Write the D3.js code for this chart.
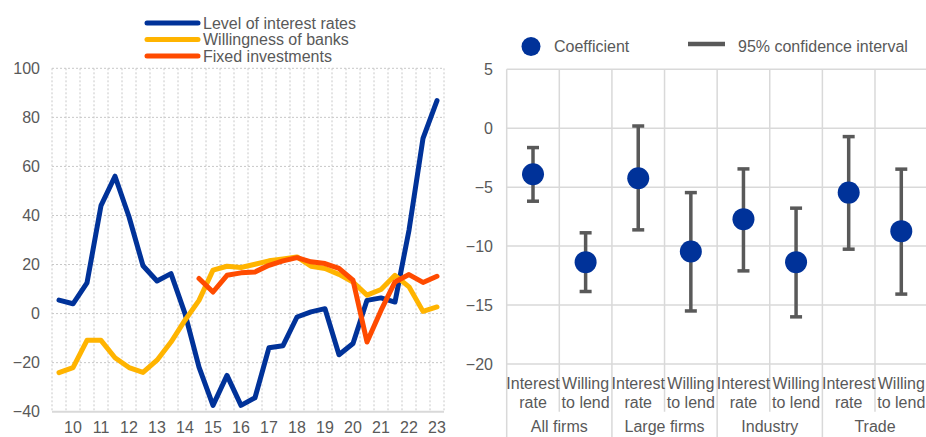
<!DOCTYPE html>
<html><head><meta charset="utf-8">
<script src="https://cdn.jsdelivr.net/npm/d3@7"></script>
<style>
body{margin:0;background:#fff}
svg{display:block;font-family:Arial,"Liberation Sans",sans-serif}
</style>
</head><body>
<svg id="c" width="926" height="437"></svg>
<script>
// ---------- Left chart data ----------
const periods = ["09H2","10H1","10H2","11H1","11H2","12H1","12H2","13H1","13H2","14H1","14H2",
  "15H1","15H2","16H1","16H2","17H1","17H2","18H1","18H2","19H1","19H2","20H1","20H2",
  "21H1","21H2","22H1","22H2","23H1"];
const tickPeriods = ["10H1","11H1","12H1","13H1","14H1","15H1","16H1","17H1","18H1","19H1","20H1","21H1","22H1","23H1"];
const tickLabels = ["10","11","12","13","14","15","16","17","18","19","20","21","22","23"];
const interestRates = [5.5,4,12.5,44,56,39.5,19.5,13.3,16.3,0,-21.8,-37.4,-25.2,-37.4,-34.3,-13.9,-13.1,-1.4,0.7,2,-16.8,-12.2,5.4,6.4,4.7,34,71.4,86.8];
const willingness = [-24.1,-22,-10.9,-10.9,-18,-22,-24,-19,-11.6,-2.7,5.4,17.7,19.3,18.8,20.1,21.5,22.3,23.1,19.3,18.4,16,12.9,7.5,9.8,15.6,10.9,0.9,2.7];
const fixedInvest = [null,null,null,null,null,null,null,null,null,null,14.3,8.8,15.6,16.6,17,19.7,21.5,22.8,21.1,20.4,18.4,13.6,-11.6,1.3,12.9,15.9,12.7,15.2];
const leftYTicks = [-40,-20,0,20,40,60,80,100];
const leftSeriesNames = ["Level of interest rates","Willingness of banks","Fixed investments"];

// ---------- Right chart data ----------
const subCats = ["Interest rate","Willing to lend","Interest rate","Willing to lend","Interest rate","Willing to lend","Interest rate","Willing to lend"];
const groups = ["All firms","Large firms","Industry","Trade"];
const coefficient = [-3.9,-11.36,-4.24,-10.46,-7.71,-11.36,-5.46,-8.73];
const ciHigh = [-1.64,-8.87,0.19,-5.46,-3.45,-6.78,-0.71,-3.47];
const ciLow = [-6.19,-13.85,-8.62,-15.5,-12.1,-16.0,-10.26,-14.07];
const rightYTicks = [-20,-15,-10,-5,0,5];

const BLUE="#003299", YELLOW="#FFB400", ORANGE="#FF4B00", TXT="#595959", GRID="#d9d9d9";
const svg = d3.select("#c");

// ================= LEFT CHART =================
const L = {x0:52, x1:444, y0:411.7, y1:68.3};
const xL = d3.scaleBand().domain(periods).range([L.x0, L.x1]).padding(0);
const cx = p => xL(p) + xL.bandwidth()/2;
const yL = d3.scaleLinear().domain([-40,100]).range([L.y0, L.y1]);

const gL = svg.append("g");
const bounds = periods.map(p => xL(p)).concat([L.x1]);
gL.selectAll("line.vg").data(bounds).join("line")
  .attr("x1", d=>d).attr("x2", d=>d).attr("y1", L.y1).attr("y2", L.y0)
  .attr("stroke","#c8c8c8").attr("stroke-dasharray","2,2").attr("stroke-width",1);
gL.selectAll("line.hg").data(leftYTicks.filter(t=>t!==-40)).join("line")
  .attr("x1", L.x0).attr("x2", L.x1).attr("y1", d=>yL(d)).attr("y2", d=>yL(d))
  .attr("stroke","#c8c8c8").attr("stroke-dasharray","2,2").attr("stroke-width",1);
gL.append("line").attr("x1",L.x0).attr("x2",L.x1).attr("y1",L.y0).attr("y2",L.y0)
  .attr("stroke",GRID).attr("stroke-width",2);

const yAxL = d3.axisLeft(yL).tickValues(leftYTicks).tickSize(0).tickPadding(0);
const gyL = svg.append("g").attr("transform",`translate(40,0)`).call(yAxL);
gyL.select(".domain").remove();
gyL.selectAll("text").attr("font-size",16).attr("fill",TXT).attr("font-family","Arial, 'Liberation Sans', sans-serif");

const xAxL = d3.axisBottom(xL).tickValues(tickPeriods)
  .tickFormat(p => tickLabels[tickPeriods.indexOf(p)]).tickSize(0).tickPadding(0);
const gxL = svg.append("g").attr("transform",`translate(0,418)`).call(xAxL);
gxL.select(".domain").remove();
gxL.selectAll("text").attr("font-size",16).attr("fill",TXT).attr("dy","0.95em")
  .attr("font-family","Arial, 'Liberation Sans', sans-serif");

const series = [
  {vals: interestRates, color: BLUE},
  {vals: willingness, color: YELLOW},
  {vals: fixedInvest, color: ORANGE}
];
const line = d3.line().defined(d=>d.v!==null).x(d=>cx(d.p)).y(d=>yL(d.v));
series.forEach(s => {
  svg.append("path")
    .datum(periods.map((p,i)=>({p, v:s.vals[i]})))
    .attr("d", line).attr("fill","none").attr("stroke", s.color)
    .attr("stroke-width",5).attr("stroke-linejoin","round").attr("stroke-linecap","round");
});

const lg = svg.append("g");
[BLUE,YELLOW,ORANGE].forEach((c,i)=>{
  const y = 23 + i*16.5;
  lg.append("line").attr("x1",147).attr("x2",198).attr("y1",y).attr("y2",y)
    .attr("stroke",c).attr("stroke-width",5).attr("stroke-linecap","round");
  lg.append("text").attr("x",203).attr("y",y+5.5).attr("font-size",16).attr("fill",TXT)
    .text(leftSeriesNames[i]);
});

// ================= RIGHT CHART =================
const R = {x0:506.7, x1:927.6, y0:364, y1:69.3};
const idx = d3.range(subCats.length);
const xR = d3.scaleBand().domain(idx).range([R.x0, R.x1]).padding(0);
const yR = d3.scaleLinear().domain([-20,5]).range([R.y0, R.y1]);
const gR = svg.append("g");

gR.selectAll("line.h").data(rightYTicks).join("line")
  .attr("x1",R.x0).attr("x2",R.x1).attr("y1",d=>yR(d)).attr("y2",d=>yR(d))
  .attr("stroke",GRID).attr("stroke-width",1.5);
const rb = idx.map(i=>xR(i)).concat([R.x1]);
gR.selectAll("line.v").data(rb).join("line")
  .attr("x1",d=>d).attr("x2",d=>d).attr("y1",R.y1)
  .attr("y2",(d,i)=> i%2===0 ? 437 : 411.7)
  .attr("stroke",GRID).attr("stroke-width",1.5);

const yAxR = d3.axisLeft(yR).tickValues(rightYTicks).tickSize(0).tickPadding(0);
const gyR = svg.append("g").attr("transform","translate(493,0)").call(yAxR);
gyR.select(".domain").remove();
gyR.selectAll("text").attr("font-size",16).attr("fill",TXT).attr("font-family","Arial, 'Liberation Sans', sans-serif");

const bwR = xR.bandwidth();
idx.forEach(i=>{
  const words = subCats[i].split(" ");
  const first = words[0], rest = words.slice(1).join(" ");
  const t = svg.append("text").attr("x", xR(i)+bwR/2).attr("text-anchor","middle")
    .attr("font-size",16).attr("fill",TXT);
  t.append("tspan").attr("x", xR(i)+bwR/2).attr("y",388.5).text(first);
  t.append("tspan").attr("x", xR(i)+bwR/2).attr("y",407.5).text(rest);
});
groups.forEach((g,k)=>{
  svg.append("text").attr("x", xR(2*k)+bwR).attr("y",432).attr("text-anchor","middle")
    .attr("font-size",16).attr("fill",TXT).text(g);
});

const eb = svg.append("g");
idx.forEach(i=>{
  const x = xR(i)+bwR/2;
  eb.append("line").attr("x1",x).attr("x2",x).attr("y1",yR(ciHigh[i])).attr("y2",yR(ciLow[i]))
    .attr("stroke",TXT).attr("stroke-width",3.5);
  [ciHigh[i],ciLow[i]].forEach(v=>{
    eb.append("line").attr("x1",x-6).attr("x2",x+6).attr("y1",yR(v)).attr("y2",yR(v))
      .attr("stroke",TXT).attr("stroke-width",3.5);
  });
});
svg.append("g").selectAll("circle").data(idx).join("circle")
  .attr("cx",i=>xR(i)+bwR/2).attr("cy",i=>yR(coefficient[i])).attr("r",11).attr("fill",BLUE);

svg.append("circle").attr("cx",531).attr("cy",46.5).attr("r",9.5).attr("fill",BLUE);
svg.append("text").attr("x",554).attr("y",52).attr("font-size",16).attr("fill",TXT).text("Coefficient");
svg.append("line").attr("x1",688).attr("x2",725).attr("y1",44).attr("y2",44)
  .attr("stroke",TXT).attr("stroke-width",4.5);
svg.append("text").attr("x",738).attr("y",52).attr("font-size",16).attr("fill",TXT).text("95% confidence interval");
</script>
</body></html>
